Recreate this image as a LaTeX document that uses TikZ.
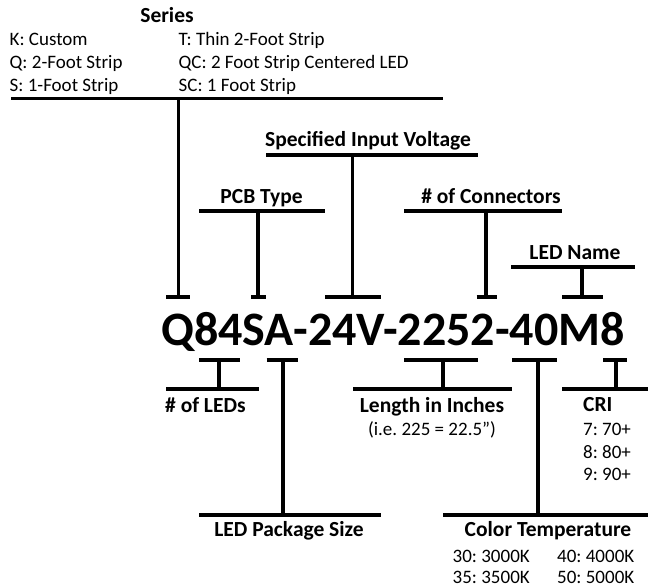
\documentclass[tikz,border=0pt]{standalone}
\usepackage{fontspec}
\setmainfont{Carlito}
\usepackage{tikz}
\usetikzlibrary{positioning,calc}
\frenchspacing

\begin{document}
\begin{tikzpicture}[x=1pt,y=-1pt,
		bar/.style={line width=3.3pt},
		head/.style={font=\fontsize{21.5}{25}\selectfont\bfseries, inner sep=0pt, anchor=base},
		item/.style={font=\fontsize{19}{22}\selectfont, inner sep=0pt, anchor=base west}]
		\useasboundingbox (0,0) rectangle (648,588);

		% part number
		\node[inner sep=0pt, anchor=base, font=\fontsize{48}{56}\selectfont\bfseries] (code) at (393,345) {Q84SA-24V-2252-40M8};

		% series
		\node[head] (series) at (167,23) {Series};
		\node[item] (k) at (9.5,45.7) {K: Custom};
		\node[item] (q) at (9.5,68.7) {Q: 2-Foot Strip};
		\node[item] (s) at (9.5,91.7) {S: 1-Foot Strip};
		\node[item] (t) at (178.5,45.7) {T: Thin 2-Foot Strip};
		\node[item] (qc) at (178.5,68.7) {QC: 2 Foot Strip Centered LED};
		\node[item] (sc) at (178.5,91.7) {SC: 1 Foot Strip};
		\coordinate (serBar) at (178.5,98.7);
		\coordinate (serTick) at (178.5,297);
		\draw[bar] (serBar) ++(-167.5,0) -- ++(432,0);
		\draw[bar] (serBar) -- (serTick);
		\draw[bar] (serTick) ++(-12.5,0) -- ++(24,0);

		% upper labels
		\node[head] (volt) at (368,146.7) {Specified Input Voltage};
		\coordinate (voltBar) at (352.5,155);
		\coordinate (voltTick) at (352.5,297);
		\draw[bar] (voltBar) ++(-86.5,0) -- ++(212,0);
		\draw[bar] (voltBar) -- (voltTick);
		\draw[bar] (voltTick) ++(-27.5,0) -- ++(55.6,0);

		\node[head] (pcb) at (261.6,204) {PCB Type};
		\coordinate (pcbBar) at (258,211);
		\coordinate (pcbTick) at (258,297);
		\draw[bar] (pcbBar) ++(-59,0) -- ++(126,0);
		\draw[bar] (pcbBar) -- (pcbTick);
		\draw[bar] (pcbTick) ++(-7,0) -- ++(15,0);

		\node[head] (conn) at (491,204) {\# of Connectors};
		\coordinate (connBar) at (486,211);
		\coordinate (connTick) at (486,297);
		\draw[bar] (connBar) ++(-82,0) -- ++(158,0);
		\draw[bar] (connBar) -- (connTick);
		\draw[bar] (connTick) ++(-9.5,0) -- ++(20.5,0);

		\node[head] (ledname) at (575,260) {LED Name};
		\coordinate (nameBar) at (582,267);
		\coordinate (nameTick) at (582,297);
		\draw[bar] (nameBar) ++(-71,0) -- ++(124,0);
		\draw[bar] (nameBar) -- (nameTick);
		\draw[bar] (nameTick) ++(-20,0) -- ++(40.5,0);

		% lower labels
		\coordinate (ledsTick) at (219,360);
		\coordinate (ledsBar) at (219,389);
		\draw[bar] (ledsTick) ++(-20,0) -- ++(41,0);
		\draw[bar] (ledsTick) -- (ledsBar);
		\draw[bar] (ledsBar) ++(-53,0) -- ++(93,0);
		\node[head, anchor=base west] (leds) at (165,412.5) {\# of LEDs};

		\coordinate (pkgTick) at (283,360);
		\coordinate (pkgBar) at (283,515);
		\draw[bar] (pkgTick) ++(-16.5,0) -- ++(31,0);
		\draw[bar] (pkgTick) -- (pkgBar);
		\draw[bar] (pkgBar) ++(-84,0) -- ++(181.6,0);
		\node[head] (pkg) at (289,536.5) {LED Package Size};

		\coordinate (lenTick) at (443,360);
		\coordinate (lenBar) at (443,389);
		\draw[bar] (lenTick) ++(-39,0) -- ++(74,0);
		\draw[bar] (lenTick) -- (lenBar);
		\draw[bar] (lenBar) ++(-90,0) -- ++(159,0);
		\node[head] (len) at (432,412.5) {Length in Inches};
		\node[item, anchor=base] (lenex) at (432,435) {(i.e. 225 = 22.5”)};

		\coordinate (cctTick) at (538,360);
		\coordinate (cctBar) at (538,515);
		\draw[bar] (cctTick) ++(-26,0) -- ++(45,0);
		\draw[bar] (cctTick) -- (cctBar);
		\draw[bar] (cctBar) ++(-95,0) -- ++(205,0);
		\node[head] (cct) at (548,536.5) {Color Temperature};
		\node[item] (c30) at (452.5,562.5) {30: 3000K};
		\node[item] (c35) at (452.5,583.5) {35: 3500K};
		\node[item] (c40) at (557,562.5) {40: 4000K};
		\node[item] (c50) at (557,583.5) {50: 5000K};

		\coordinate (criTick) at (616,360);
		\coordinate (criBar) at (616,389);
		\draw[bar] (criTick) ++(-13,0) -- ++(24,0);
		\draw[bar] (criTick) -- (criBar);
		\draw[bar] (criBar) ++(-54,0) -- ++(86,0);
		\node[head, anchor=base west] (cri) at (583,411.7) {CRI};
		\node[item] (cri7) at (583,435) {7: 70+};
		\node[item] (cri8) at (583,458.3) {8: 80+};
		\node[item] (cri9) at (583,480) {9: 90+};
	\end{tikzpicture}
\end{document}
